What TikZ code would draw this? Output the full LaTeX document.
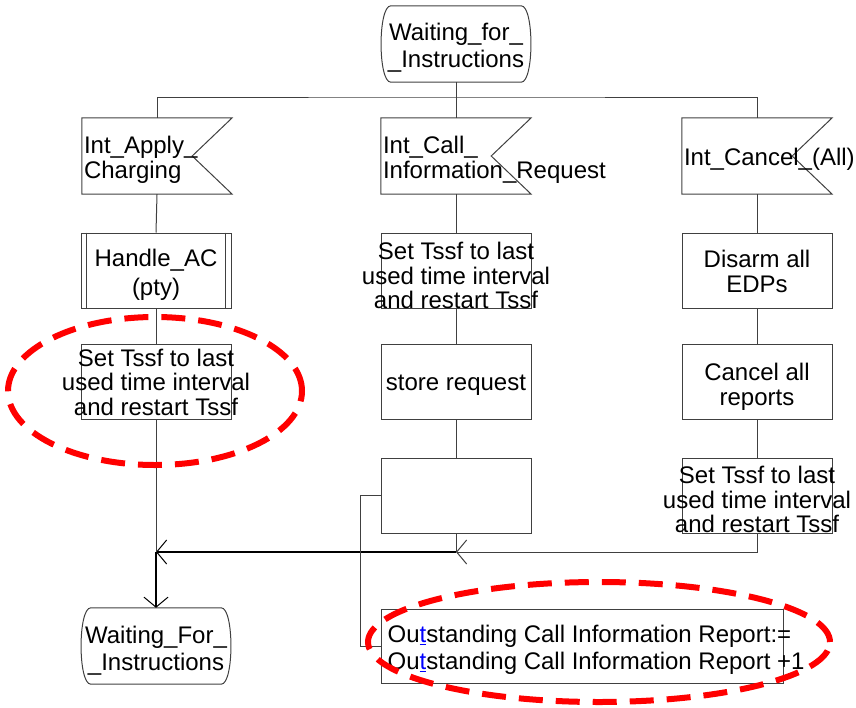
\documentclass[tikz,border=0pt]{standalone}
\usepackage{fontspec}
\setmainfont{Liberation Sans}
\usetikzlibrary{arrows.meta}
\newcommand{\stateoutline}[1]{\draw[ln] ([xshift=10pt]#1.north west) -- ([xshift=-10pt]#1.north east) .. controls ([xshift=3pt]#1.north east) and ([xshift=3pt]#1.south east) .. ([xshift=-10pt]#1.south east) -- ([xshift=10pt]#1.south west) .. controls ([xshift=-3pt]#1.south west) and ([xshift=-3pt]#1.north west) .. cycle;}
\newcommand{\inputoutline}[1]{\draw[ln] (#1.north west) -- (#1.north east) -- ([xshift=-40pt]#1.east) -- (#1.south east) -- (#1.south west) -- cycle;}
% text node centred on a shape, moved down by #2 pt
\newcommand{\tn}[4][]{\node[txt,#1] (#2t) at ([yshift=-#3pt]#2.center) {#4};}
\tikzset{
  every node/.style={font=\fontsize{24}{24.5}\selectfont, inner sep=0pt},
  txt/.style={align=center},
  ln/.style={draw=black!75, line width=1pt},
  thk/.style={draw=black, line width=1.6pt},
  ghost/.style={minimum width=150pt, minimum height=76pt, inner sep=0pt},
  box/.style={ghost, ln, minimum height=75pt},
  redell/.style={draw=red, line width=6pt, dash pattern=on 24pt off 13pt},
  barb/.tip={Straight Barb[length=10pt, width=24pt, line width=1pt]}
}
\begin{document}
\begin{tikzpicture}[x=1pt, y=-1pt]
\useasboundingbox (0,0) rectangle (856,707);
% states
\node[ghost] (top) at (456,44) {};
\stateoutline{top}
\tn[font=\fontsize{24}{27}\selectfont]{top}{4}{Waiting\_for\_\\\_Instructions}
\node[ghost] (bs) at (156,646) {};
\stateoutline{bs}
\tn[font=\fontsize{24}{27}\selectfont]{bs}{4.5}{Waiting\_For\_\\\_Instructions}
% inputs
\node[ghost] (in1) at (157,156) {};
\inputoutline{in1}
\node[anchor=west, align=left] (in1t) at ([xshift=2pt, yshift=-4pt]in1.west) {Int\_Apply\_\\Charging};
\node[ghost] (in2) at (456,156) {};
\inputoutline{in2}
\node[anchor=west, align=left] (in2t) at ([xshift=2pt, yshift=-4pt]in2.west) {Int\_Call\_\\Information\_Request};
\node[ghost] (in3) at (757,156) {};
\inputoutline{in3}
\node[anchor=west, align=left] (in3t) at ([xshift=2pt, yshift=-3pt]in3.west) {Int\_Cancel\_(All)};
% left column
\node[box] (p) at (156,270.5) {};
\draw[ln] ([xshift=6pt]p.north west) -- ([xshift=6pt]p.south west);
\draw[ln] ([xshift=-6pt]p.north east) -- ([xshift=-6pt]p.south east);
\tn[font=\fontsize{24}{29}\selectfont]{p}{4}{Handle\_AC\\(pty)}
\node[box] (l2) at (156,382) {};
\tn{l2}{0}{Set Tssf to last\\used time interval\\and restart Tssf}
% middle column
\node[box] (m2) at (456,270.5) {};
\tn{m2}{5}{Set Tssf to last\\used time interval\\and restart Tssf}
\node[box] (m3) at (456,382) {};
\tn{m3}{3}{store request}
\node[box] (m4) at (456,495.5) {};
% right column
\node[box] (r2) at (757,270.5) {};
\tn{r2}{1}{Disarm all\\EDPs}
\node[box] (r3) at (757,382) {};
\tn{r3}{5}{Cancel all\\reports}
\node[box] (r4) at (757,495.5) {};
\tn{r4}{4}{Set Tssf to last\\used time interval\\and restart Tssf}
% comment box
\node[ln, minimum width=402pt, minimum height=74pt] (out) at (582,646) {};
\node[anchor=west, align=left, font=\fontsize{24}{27}\selectfont] (outt) at ([xshift=7pt, yshift=-4pt]out.west)
  {Ou{\color{blue}\underline{t}}standing Call Information Report:=\\Ou{\color{blue}\underline{t}}standing Call Information Report +1};
% connectors
\coordinate (t0) at (456,97);
\draw[ln] (top.south) -- (t0);
\draw[ln] (in1.north) |- (t0) -| (in3.north);
\draw[ln] (t0) -- (in2.north);
\draw[ln] (in1.south) -- (p.north);
\draw[ln] (p.south) -- (l2.north);
\draw[ln] (in2.south) -- (m2.north);
\draw[ln] (m2.south) -- (m3.north);
\draw[ln] (m3.south) -- (m4.north);
\draw[ln] (in3.south) -- (r2.north);
\draw[ln] (r2.south) -- (r3.north);
\draw[ln] (r3.south) -- (r4.north);
\coordinate (mj) at (456,552);
\coordinate (lj) at (156,552);
\coordinate (cb) at (360,495.5);
\draw[ln] (m4.south) -- (mj);
\draw[ln, -{barb}] (r4.south) |- (mj);
\draw[thk, -{barb}] (mj) -- (lj);
\draw[ln] (l2.south) -- (lj);
\draw[thk, -{barb}] (lj) -- (bs.north);
\draw[ln] (m4.west) -- (cb) |- (out.west);
% highlights
\draw[redell] (155,391) ellipse [x radius=147pt, y radius=74pt];
\draw[redell] (599,642) ellipse [x radius=231pt, y radius=60pt];
\end{tikzpicture}
\end{document}
